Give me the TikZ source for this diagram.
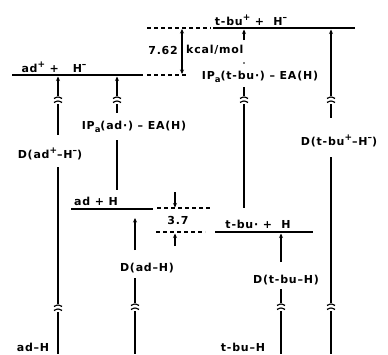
\documentclass[tikz,border=0pt]{standalone}
\usepackage{fontspec}
\setmainfont{DejaVu Sans}[LetterSpace=7]
\usetikzlibrary{arrows.meta}
\newcommand{\brkmark}[2]{%
  \draw[brk] (#1-4,#2-1.5) .. controls (#1,#2-3.5) .. (#1+4,#2-1.5);
  \draw[brk] (#1-4,#2+2.5) .. controls (#1,#2+0.5) .. (#1+4,#2+2.5);}
\newcommand{\sps}[1]{\raisebox{0.75ex}{\fontsize{9}{9}\selectfont #1}}
\newcommand{\sbs}[1]{\raisebox{-0.4ex}{\fontsize{8.5}{8.5}\selectfont #1}}
\begin{document}
\begin{tikzpicture}[x=1pt,y=-1pt,
  lvl/.style={line width=1.5pt},
  dsh/.style={line width=1.4pt,dash pattern=on 4pt off 3pt},
  conn/.style={line width=1.4pt},
  arr/.style={conn,-{Stealth[length=4.5pt,width=4pt]}},
  darr/.style={conn,{Stealth[length=4.5pt,width=4pt]}-{Stealth[length=4.5pt,width=4pt]}},
  brk/.style={line width=1.2pt},
  lab/.style={font=\bfseries\fontsize{11}{13}\selectfont,inner sep=0pt}]
\useasboundingbox (0,0) rectangle (388,354);
% levels
\coordinate (L1a) at (213,28); \coordinate (L1b) at (355,28);
\coordinate (L1d) at (147,28);
\draw[lvl] (L1a) -- (L1b);
\draw[dsh] (L1d) -- (211,28);
\coordinate (L2a) at (12,75); \coordinate (L2b) at (143,75);
\draw[lvl] (L2a) -- (L2b);
\draw[dsh] (147,75) -- (186,75);
\coordinate (L3a) at (71,209); \coordinate (L3b) at (153,209);
\draw[lvl] (L3a) -- (L3b);
\draw[dsh] (157,208) -- (210,208);
\coordinate (L4a) at (215,232); \coordinate (L4b) at (313,232);
\draw[lvl] (L4a) -- (L4b);
\draw[dsh] (156,232) -- (205,232);
% 7.62 gap
\coordinate (g1) at (182,29); \coordinate (g2) at (182,74);
\draw[darr] (g1) -- (g2);
\node[lab,anchor=east] (n762) at (178,50) {7.62};
\node[lab,anchor=west] (kcal) at (186,50) {kcal/mol};
% 3.7 gap
\coordinate (h1) at (175,192); \coordinate (h2) at (175,207.5);
\draw[arr] (h1) -- (h2);
\coordinate (h3) at (175,246); \coordinate (h4) at (175,233.5);
\draw[arr] (h3) -- (h4);
\node[lab] (n37) at (178,220) {3.7};
% labels
\node[lab] (tbuplus) at (251,20) {t-bu\sps{+}\ +\ \ H\sps{–}};
\node[lab] (adplus) at (54,67) {ad\sps{+}\ +\ \ \ H\sps{–}};
\node[lab] (IPtbu) at (260,77) {IP\sbs{a}(t-bu·) – EA(H)};
\node[lab] (IPad) at (134,127) {IP\sbs{a}(ad·) – EA(H)};
\node[lab] (Dad) at (50,154) {D(ad\sps{+}–H\sps{–})};
\node[lab] (adH) at (96,201) {ad + H};
\node[lab] (DadH) at (147,268) {D(ad–H)};
\node[lab] (tbuH) at (258,224) {t-bu·\ +\ \ H};
\node[lab] (Dtbu) at (339,141) {D(t-bu\sps{+}–H\sps{–})};
\node[lab] (DtbuH) at (286,280) {D(t-bu–H)};
\node[lab] (adHmol) at (33,347) {ad–H};
\node[lab] (tbuHmol) at (243,347) {t-bu–H};
% V1
\draw[arr] (58,96) -- (58,76.5);
\brkmark{58}{100}
\draw[conn] (58,104) -- (58,135);
\draw[conn] (58,167) -- (58,304);
\brkmark{58}{308}
\draw[conn] (58,312) -- (58,354);
% V2
\draw[arr] (117,96) -- (117,76.5);
\brkmark{117}{100}
\draw[conn] (117,104) -- (117,113);
\draw[conn] (117,140) -- (117,190);
% V3
\draw[arr] (135,250) -- (135,218);
\draw[conn] (135,278) -- (135,303);
\brkmark{135}{307}
\draw[conn] (135,311) -- (135,354);
% V4
\draw[arr] (244,40) -- (244,29.5);
\fill (244,63) circle (0.9pt);
\draw[conn] (244,87) -- (244,96);
\brkmark{244}{100}
\draw[conn] (244,104) -- (244,208);
% V5
\draw[arr] (331,96) -- (331,29.5);
\brkmark{331}{100}
\draw[conn] (331,104) -- (331,118);
\draw[conn] (331,157) -- (331,303);
\brkmark{331}{307}
\draw[conn] (331,311) -- (331,354);
% V6
\draw[arr] (281,262) -- (281,233.5);
\draw[conn] (281,289) -- (281,303);
\brkmark{281}{307}
\draw[conn] (281,311) -- (281,354);
\end{tikzpicture}
\end{document}
